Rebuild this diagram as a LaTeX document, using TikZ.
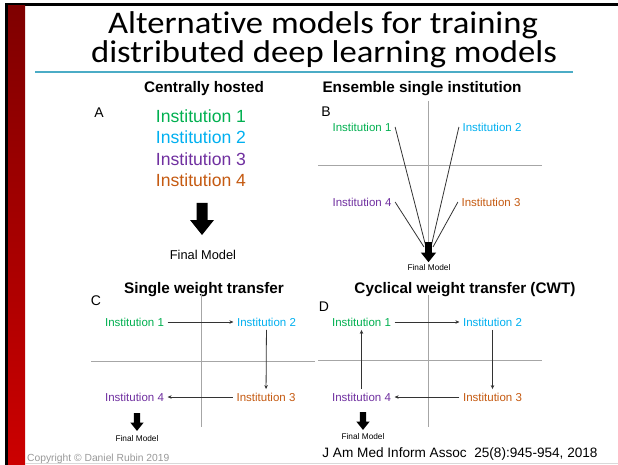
\documentclass[tikz,border=0pt]{standalone}
\usepackage{fontspec}
\setmainfont{Liberation Sans}
\newfontfamily\titlefont[FakeStretch=1.1, RawFeature={-liga;-dlig;-clig;-calt}]{Carlito}
\usetikzlibrary{arrows.meta, positioning}
\definecolor{instgreen}{HTML}{00B050}
\definecolor{instblue}{HTML}{00B0F0}
\definecolor{instpurple}{HTML}{7030A0}
\definecolor{instbrown}{HTML}{C55A11}
\definecolor{ruleblue}{HTML}{4BACC6}
\definecolor{bardark}{HTML}{7F0000}
\definecolor{barlight}{HTML}{CC0000}

\tikzset{
  blockdown/.pic={
    \fill[black] (-5.5,0) -- (5.5,0) -- (5.5,17) -- (12,17) -- (0,32)
      -- (-12,17) -- (-5.5,17) -- cycle;
  }
}

\begin{document}
\begin{tikzpicture}[
  x=1pt, y=-1pt,
  titleline/.style={font=\fontsize{31.5}{34}\titlefont, inner sep=0pt, anchor=base,
    text height=21pt, text depth=5pt},
  heading/.style={font=\fontsize{15.3}{17}\selectfont\bfseries},
  letter/.style={font=\fontsize{14}{16}\selectfont},
  biginst/.style={font=\fontsize{17.6}{20}\selectfont, inner sep=0pt},
  inst/.style={font=\fontsize{11.5}{13}\selectfont, inner sep=3.5pt},
  final/.style={font=\fontsize{8.3}{10}\selectfont},
  cross/.style={draw=black!35, line width=0.8pt},
  spoke/.style={draw=black!80, line width=0.8pt},
  flow/.style={draw=black!80, line width=0.8pt, -{Stealth[length=4pt, width=3.5pt]}}
]
  \useasboundingbox (0,0) rectangle (618,465);
  \fill[white] (0,0) rectangle (618,465);

  % Slide frame
  \fill[black] (5,3) rectangle (618,6);
  \fill[black] (5,3) rectangle (8,465);
  \shade[top color=bardark, bottom color=barlight] (8,6) rectangle (25,465);
  \draw[black!15, line width=0.8pt] (25,463.5) -- (618,463.5);

  % Title
  \node[titleline] (title1) at (323,34) {Alternat\kern0pt ive models for training};
  \node[titleline] (title2) at (324,63) {distributed deep learning models};
  \draw[ruleblue, line width=2pt] (35,72) -- (573,72);

  % A: centrally hosted
  \node[heading] (hA) at (204,89) {Centrally hosted};
  \node[letter] (lA) at (99,113) {A};
  \node[biginst, text=instgreen] (a1) at (201,116) {Institution 1};
  \node[biginst, text=instblue] (a2) at (201,137) {Institution 2};
  \node[biginst, text=instpurple] (a3) at (201,159) {Institution 3};
  \node[biginst, text=instbrown] (a4) at (201,180) {Institution 4};
  \pic at (202,203) {blockdown};
  \node[font=\fontsize{12.8}{14}\selectfont] (afin) at (203,255) {Final Model};

  % B: ensemble single institution
  \node[heading] (hB) at (422,89) {Ensemble single institution};
  \node[letter] (lB) at (326,112) {B};
  \draw[cross] (428,101) -- (428,243);
  \draw[cross] (318,165) -- (542,165);
  \node[inst, text=instgreen] (b1) at (362,127) {Institution 1};
  \node[inst, text=instblue] (b2) at (492,127) {Institution 2};
  \node[inst, text=instpurple] (b4) at (362,202) {Institution 4};
  \node[inst, text=instbrown] (b3) at (491,202) {Institution 3};
  \coordinate (bfin) at (428,247);
  \draw[spoke] (b1.east) -- ([xshift=-2pt]bfin);
  \draw[spoke] (b2.west) -- ([xshift=3pt]bfin);
  \draw[spoke] (b4.east) -- ([xshift=-4pt]bfin);
  \draw[spoke] (b3.west) -- ([xshift=5pt]bfin);
  \pic[scale=0.63] at (428.5,242) {blockdown};
  \node[final] (bfinal) at (429,268) {Final Model};

  % C: single weight transfer
  \node[heading] (hC) at (204,290) {Single weight transfer};
  \node[letter] (lC) at (96,301) {C};
  \draw[cross] (201,294) -- (201,427);
  \draw[cross] (91,361) -- (315,361);
  \node[inst, text=instgreen] (c1) at (134.5,322) {Institution 1};
  \node[inst, text=instblue] (c2) at (266.5,322) {Institution 2};
  \node[inst, text=instpurple] (c4) at (134.5,397) {Institution 4};
  \node[inst, text=instbrown] (c3) at (266,397) {Institution 3};
  \draw[flow] (c1) -- (c2);
  \draw[flow] (c2) -- (c3);
  \draw[flow] (c3) -- (c4);
  \pic[scale=0.56] at (137,413) {blockdown};
  \node[final] (cfinal) at (137,439) {Final Model};

  % D: cyclical weight transfer
  \node[heading] (hD) at (465,290) {Cyclical weight transfer (CWT)};
  \node[letter] (lD) at (324,307) {D};
  \draw[cross] (428,295) -- (428,427);
  \draw[cross] (318,360) -- (542,360);
  \node[inst, text=instgreen] (d1) at (361.5,322) {Institution 1};
  \node[inst, text=instblue] (d2) at (492.5,322) {Institution 2};
  \node[inst, text=instpurple] (d4) at (361.5,397) {Institution 4};
  \node[inst, text=instbrown] (d3) at (492.5,397) {Institution 3};
  \draw[flow] (d1) -- (d2);
  \draw[flow] (d2) -- (d3);
  \draw[flow] (d3) -- (d4);
  \draw[flow] (d4) -- (d1);
  \pic[scale=0.56] at (363,412) {blockdown};
  \node[final] (dfinal) at (363,437) {Final Model};

  % Footer
  \node[font=\fontsize{10.3}{12}\selectfont, text=black!40, anchor=west, inner sep=0pt] (copy) at (27,459) {Copyright © Daniel Rubin 2019};
  \node[font=\fontsize{13.6}{15}\selectfont, inner sep=0pt] (cite) at (460,454) {J Am Med Inform Assoc\ \ 25(8):945-954, 2018};
\end{tikzpicture}
\end{document}
